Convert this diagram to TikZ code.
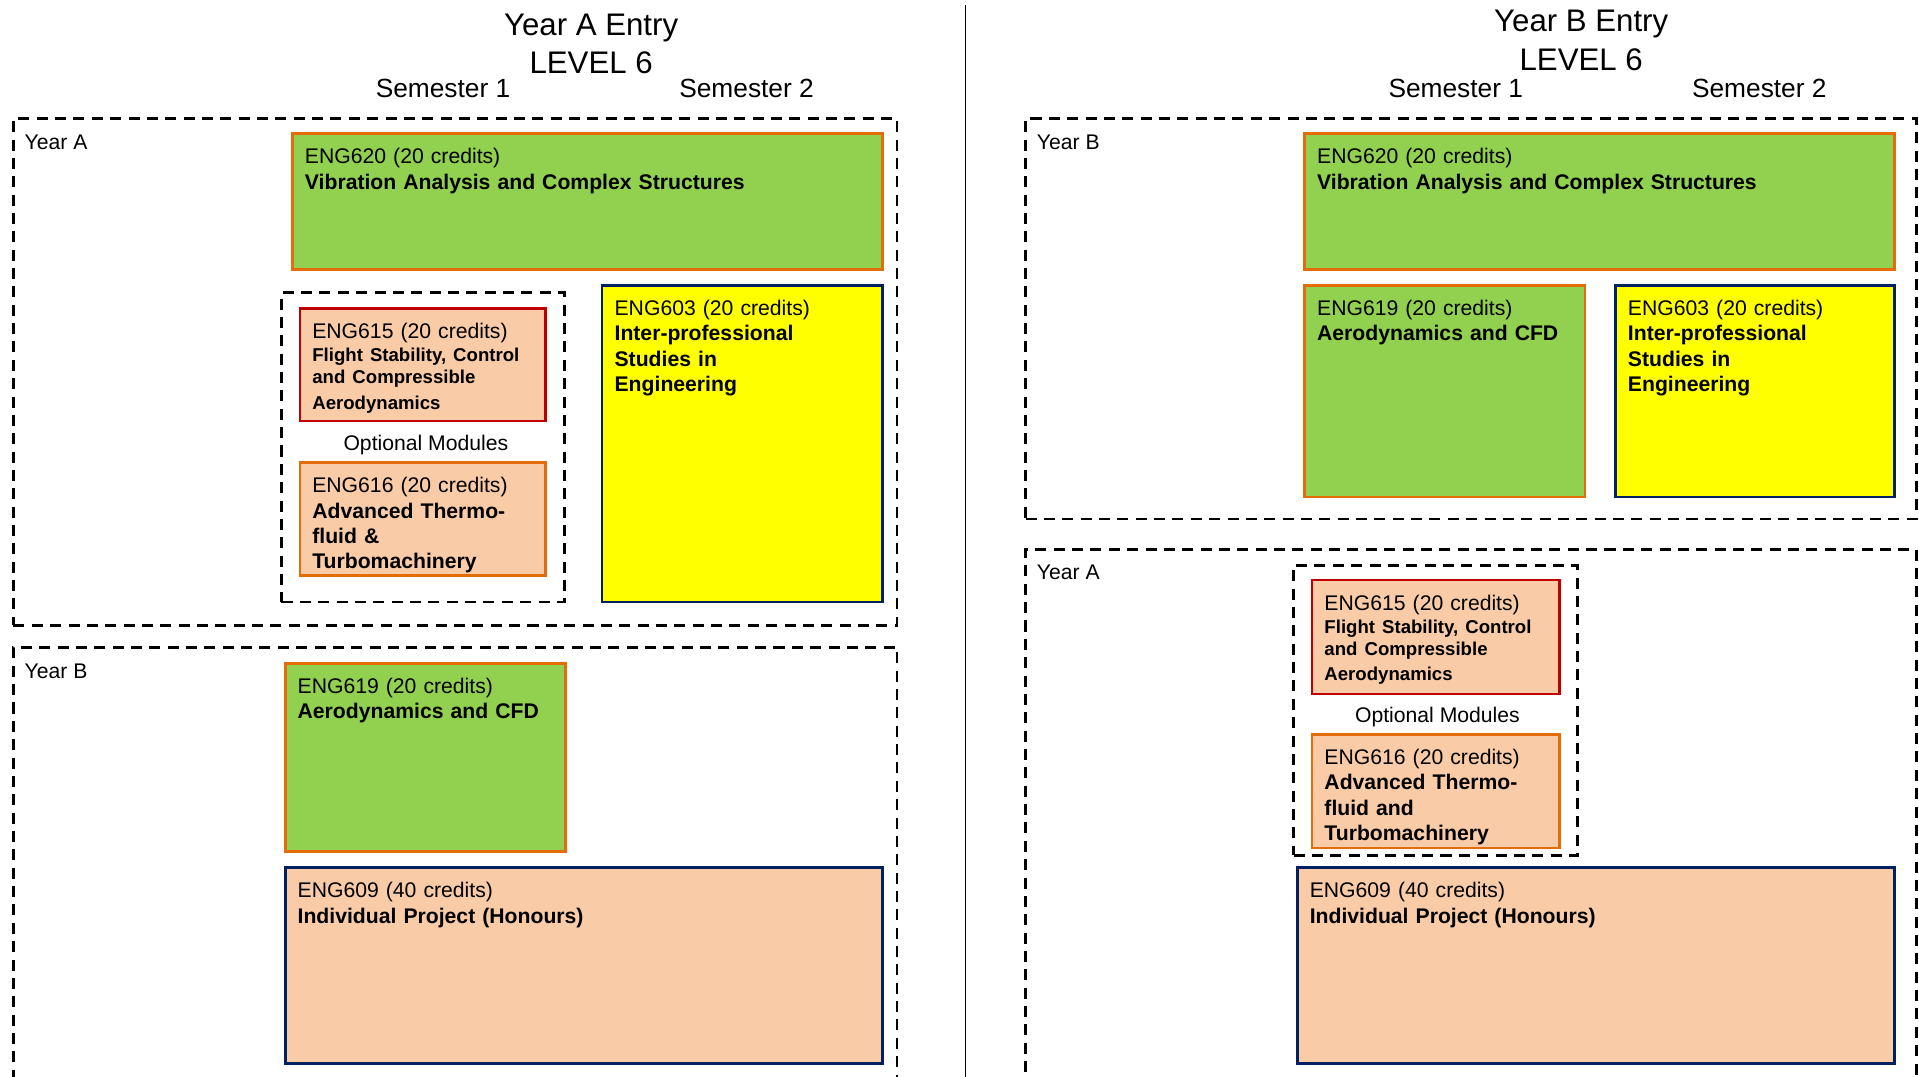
\documentclass[tikz,border=0pt]{standalone}
\usepackage{fontspec}
\setmainfont{Liberation Sans}
\definecolor{modgreen}{HTML}{92D050}
\definecolor{modpeach}{HTML}{F9CBA6}
\definecolor{modyellow}{HTML}{FFFF00}
\definecolor{bdorange}{HTML}{E46C0A}
\definecolor{bdred}{HTML}{C00000}
\definecolor{bdnavy}{HTML}{002060}
\newcommand\mybox[6]{\node[#6, minimum width={(#4)-(#2)}, minimum height={(#5)-(#3)}] (#1) at ({((#2)+(#4))/2},{((#3)+(#5))/2}) {};}
\newcommand\modfont{\fontsize{17.3}{20.8}\selectfont}
\newcommand\smallbold{\fontsize{15.2}{18}\selectfont\bfseries}
\newcommand\titlefont{\fontsize{25.5}{30}\selectfont}
\newcommand\semfont{\fontsize{21.5}{26}\selectfont}
\tikzset{
  boxbase/.style={rectangle, inner sep=0pt, outer sep=0pt, line width=2.2pt},
  greenmod/.style={boxbase, fill=modgreen, draw=bdorange},
  peachmod/.style={boxbase, fill=modpeach, draw=bdorange},
  peachred/.style={boxbase, fill=modpeach, draw=bdred},
  peachnavy/.style={boxbase, fill=modpeach, draw=bdnavy},
  yellowmod/.style={boxbase, fill=modyellow, draw=bdnavy},
  dashbox/.style={rectangle, inner sep=0pt, outer sep=0pt, draw=black, line width=2.2pt, dash pattern=on 9pt off 6pt},
  mtext/.style={anchor=base west, inner sep=0pt, align=left, font=\modfont},
  lbl/.style={anchor=base west, inner sep=0pt, font=\modfont},
  title/.style={anchor=base, inner sep=0pt, font=\titlefont},
  sem/.style={anchor=base, inner sep=0pt, font=\semfont},
}
\begin{document}
\begin{tikzpicture}[x=1pt,y=-1pt]
\useasboundingbox (0,0) rectangle (1568,880);
\fill[white] (0,0) rectangle (1568,880);
\clip (0,0) rectangle (1568,880);

% divider
\coordinate (divtop) at (789,4);
\coordinate (divbot) at (789,885);
\draw[line width=1.3pt] (divtop) -- (divbot);

% ===== Left panel =====
\node[title] (titA) at (483,28.6) {Year A Entry};
\node[title] (lvlA) at (483,60) {LEVEL 6};
\node[sem] (s1A) at (362,79.5) {Semester 1};
\node[sem] (s2A) at (610,79.5) {Semester 2};

\mybox{yrAa}{11}{97}{733}{511}{dashbox}
\node[lbl] (yrAa-l) at (20,121.8) {Year A};
\mybox{yrBa}{11}{529}{733}{900}{dashbox}
\node[lbl] (yrBa-l) at (20,554) {Year B};

\mybox{m620a}{239}{109}{721}{220}{greenmod}
\node[mtext, text width=460pt] (m620a-t) at ([shift={(10pt,-25pt)}]m620a.north west) {ENG620 (20 credits)\\\textbf{Vibration Analysis and Complex Structures}};

\mybox{optA}{230}{239}{461}{492}{dashbox}
\mybox{m615a}{245}{252}{446}{344}{peachred}
\node[mtext, text width=190pt] (m615a-t) at ([shift={(10pt,-24.5pt)}]m615a.north west) {ENG615 (20 credits)\\[1pt]\smallbold Flight Stability, Control\\and Compressible\\Aerodynamics};
\node[anchor=base, inner sep=0pt, font=\modfont] (optA-l) at (348,368.2) {Optional Modules};
\mybox{m616a}{245}{378}{446}{470}{peachmod}
\node[mtext, text width=190pt] (m616a-t) at ([shift={(10pt,-24.5pt)}]m616a.north west) {ENG616 (20 credits)\\\textbf{Advanced Thermo-}\\\textbf{fluid \&}\\\textbf{Turbomachinery}};

\mybox{m603a}{492}{233}{721}{492}{yellowmod}
\node[mtext, text width=215pt] (m603a-t) at ([shift={(10pt,-24.5pt)}]m603a.north west) {ENG603 (20 credits)\\\textbf{Inter-professional}\\\textbf{Studies in}\\\textbf{Engineering}};

\mybox{m619a}{233}{542}{462}{696}{greenmod}
\node[mtext, text width=215pt] (m619a-t) at ([shift={(10pt,-24.5pt)}]m619a.north west) {ENG619 (20 credits)\\\textbf{Aerodynamics and CFD}};

\mybox{m609a}{233}{709}{721}{869}{peachnavy}
\node[mtext, text width=460pt] (m609a-t) at ([shift={(10pt,-24.5pt)}]m609a.north west) {ENG609 (40 credits)\\\textbf{Individual Project (Honours)}};

% ===== Right panel =====
\node[title] (titB) at (1292,25.9) {Year B Entry};
\node[title] (lvlB) at (1292,57.2) {LEVEL 6};
\node[sem] (s1B) at (1189.5,79.5) {Semester 1};
\node[sem] (s2B) at (1437.5,79.5) {Semester 2};

\mybox{yrBb}{838}{97}{1566}{424}{dashbox}
\node[lbl] (yrBb-l) at (847,121.8) {Year B};
\mybox{yrAb}{838}{449}{1566}{900}{dashbox}
\node[lbl] (yrAb-l) at (847,473.8) {Year A};

\mybox{m620b}{1066}{109}{1548}{220}{greenmod}
\node[mtext, text width=460pt] (m620b-t) at ([shift={(10pt,-25pt)}]m620b.north west) {ENG620 (20 credits)\\\textbf{Vibration Analysis and Complex Structures}};

\mybox{m619b}{1066}{233}{1295}{406}{greenmod}
\node[mtext, text width=215pt] (m619b-t) at ([shift={(10pt,-24.5pt)}]m619b.north west) {ENG619 (20 credits)\\\textbf{Aerodynamics and CFD}};

\mybox{m603b}{1320}{233}{1548}{406}{yellowmod}
\node[mtext, text width=215pt] (m603b-t) at ([shift={(10pt,-24.5pt)}]m603b.north west) {ENG603 (20 credits)\\\textbf{Inter-professional}\\\textbf{Studies in}\\\textbf{Engineering}};

\mybox{optB}{1057}{462}{1289}{699}{dashbox}
\mybox{m615b}{1072}{474}{1274}{567}{peachred}
\node[mtext, text width=190pt] (m615b-t) at ([shift={(10pt,-24.5pt)}]m615b.north west) {ENG615 (20 credits)\\[1pt]\smallbold Flight Stability, Control\\and Compressible\\Aerodynamics};
\node[anchor=base, inner sep=0pt, font=\modfont] (optB-l) at (1174.5,590.5) {Optional Modules};
\mybox{m616b}{1072}{600}{1274}{693}{peachmod}
\node[mtext, text width=190pt] (m616b-t) at ([shift={(10pt,-24.5pt)}]m616b.north west) {ENG616 (20 credits)\\\textbf{Advanced Thermo-}\\\textbf{fluid and}\\\textbf{Turbomachinery}};

\mybox{m609b}{1060}{709}{1548}{869}{peachnavy}
\node[mtext, text width=460pt] (m609b-t) at ([shift={(10pt,-24.5pt)}]m609b.north west) {ENG609 (40 credits)\\\textbf{Individual Project (Honours)}};
\end{tikzpicture}
\end{document}
